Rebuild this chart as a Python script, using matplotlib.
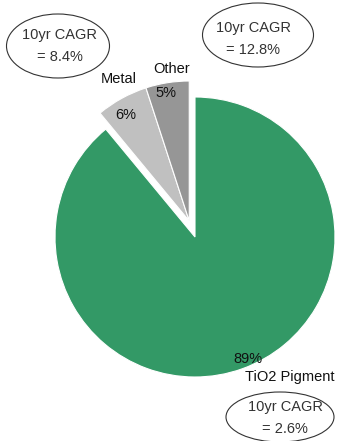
import numpy as np
import matplotlib
matplotlib.use("Agg")
from matplotlib import pyplot as plt
from matplotlib.patches import Ellipse

plt.rcParams["font.family"] = ["Liberation Sans", "DejaVu Sans"]

# share of demand, clockwise from 12 o'clock
segments = ["TiO2 Pigment", "Metal", "Other"]
shares = [89, 6, 5]
cagr = [2.6, 8.4, 12.8]
COLOURS = ["#339966", "#C0C0C0", "#969696"]

# text positions in pixels (x, y from top)
name_pos = [(290, 377), (119, 79), (172, 69)]
pct_pos = [(248, 359), (126, 115), (166, 93)]
bubble_pos = [(280, 417), (58, 46), (258, 35)]
bubble_text = [(285, 418), (60, 46), (253, 39)]
bubble_size = [(108, 50), (103, 64), (111, 64)]

W, H = 339, 441
CX, CY, R = 195, H - 237, 140

fig = plt.figure(figsize=(W / 100, H / 100), dpi=100)
ax = fig.add_axes([0, 0, 1, 1])

wedges, _ = ax.pie(shares,
                   colors=COLOURS,
                   startangle=90,
                   counterclock=False,
                   radius=R,
                   center=(CX, CY),
                   wedgeprops=dict(edgecolor="white", linewidth=0.8),
                   frame=True)

# pull Metal + Other out together, along their common mid-angle
mid = np.deg2rad(90 + (shares[1] + shares[2]) / 100 * 360 / 2)
off = 17
for w in wedges[1:]:
    w.set_center((CX + off * np.cos(mid), CY + off * np.sin(mid)))

ax.set_xlim(0, W)
ax.set_ylim(0, H)
ax.set_aspect("equal")
ax.axis("off")

for i, name in enumerate(segments):
    ax.text(name_pos[i][0], H - name_pos[i][1], name, ha="center",
            va="center", fontsize=10.5, color="#111111")
    ax.text(pct_pos[i][0], H - pct_pos[i][1], "%d%%" % shares[i],
            ha="center", va="center", fontsize=10.5, color="#111111")
    bx, by = bubble_pos[i]
    ax.add_patch(Ellipse((bx, H - by), bubble_size[i][0], bubble_size[i][1],
                         facecolor="white", edgecolor="#333333", lw=0.8))
    tx, ty = bubble_text[i]
    ax.text(tx, H - ty, "10yr CAGR\n= %.1f%%" % cagr[i], ha="center",
            va="center", fontsize=10.5, color="#333333", linespacing=1.65)

fig.savefig("out.png", dpi=100)
